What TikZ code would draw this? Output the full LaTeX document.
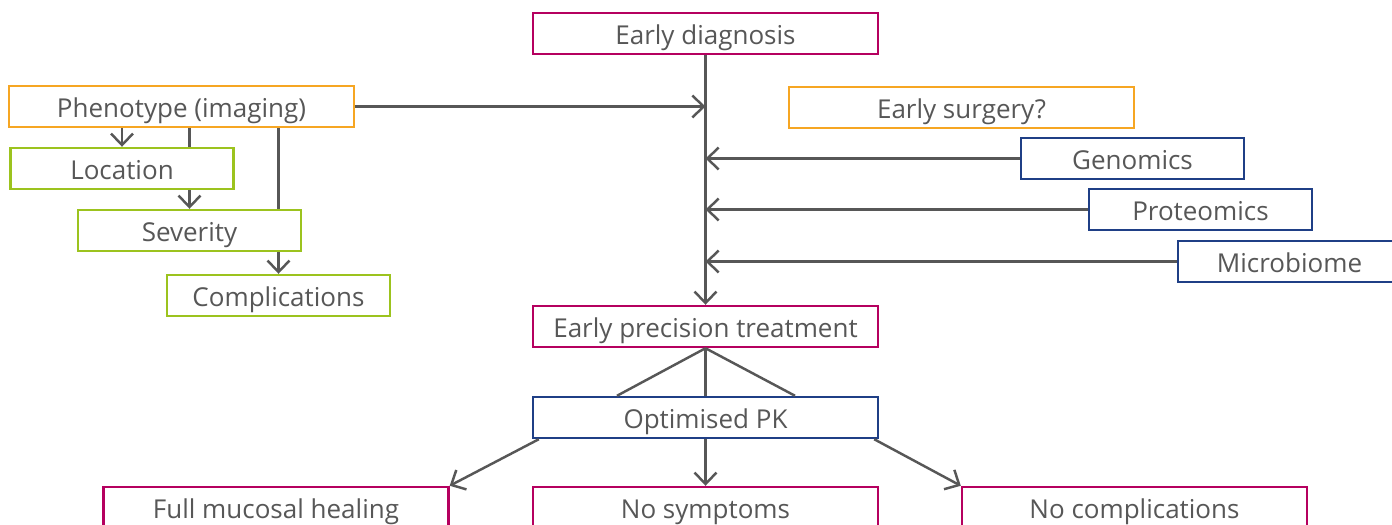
\documentclass[tikz,border=0pt]{standalone}
\usepackage{fontspec}
\setmainfont{Open Sans}
\usepackage{xcolor}
\usepackage{tikz}
\usetikzlibrary{arrows.meta, calc}

\definecolor{berry}{HTML}{B5005F}
\definecolor{amber}{HTML}{F6A623}
\definecolor{lime}{HTML}{9CC31E}
\definecolor{navy}{HTML}{1F3F86}
\definecolor{ink}{HTML}{575757}

\begin{document}
\begin{tikzpicture}[x=0.02cm, y=-0.02cm,
    box/.style={draw, line width=1.4pt, fill=white, text=ink, font=\fontsize{14.8}{17}\selectfont,
        minimum height=0.82cm, inner sep=0pt, text height=12pt, text depth=0pt},
    wide/.style={box, minimum width=6.9cm},
    slim/.style={box, minimum width=4.46cm},
    link/.style={ink, line width=1.4pt},
    arr/.style={link, -{Straight Barb[length=6.5pt, width=12.5pt]}}]
    \useasboundingbox (0,0) rectangle (1392,524);

    % top and middle column
    \node[wide, draw=berry] (diag) at (705.5,33.5) {Early diagnosis};
    \node[wide, draw=berry] (prec) at (705.5,326.5) {Early precision treatment};
    \node[wide, draw=navy] (pk) at (705.5,417.5) {Optimised PK};

    % phenotype branch
    \node[wide, draw=amber] (pheno) at (181.5,106.5) {Phenotype (imaging)};
    \node[slim, draw=lime] (loc) at (122,168.5) {Location};
    \node[slim, draw=lime] (sev) at (189.5,230.5) {Severity};
    \node[slim, draw=lime] (compl) at (278.5,295.5) {Complications};

    % right side
    \node[wide, draw=amber] (surg) at (961.5,107.5) {Early surgery?};
    \node[slim, draw=navy] (gen) at (1132.5,158.5) {Genomics};
    \node[slim, draw=navy] (prot) at (1200.5,209.5) {Proteomics};
    \node[slim, draw=navy] (micro) at (1289.5,261.5) {Microbiome};

    % outcomes
    \node[wide, draw=berry] (heal) at (276,507.5) {Full mucosal healing};
    \node[wide, draw=berry] (nosym) at (705.5,507.5) {No symptoms};
    \node[wide, draw=berry] (nocomp) at (1134.5,507.5) {No complications};

    \draw[arr] (diag.south) -- (prec.north);
    \draw[arr] (pheno.east) -- (pheno.east -| diag.south);
    \foreach \n in {gen, prot, micro} \draw[arr] (\n.west) -- (\n.west -| diag.south);

    \draw[arr] (loc.north |- pheno.south) -- (loc.north);
    \draw[link] (sev.north |- pheno.south) -- (sev.north |- loc.north);
    \draw[arr] (sev.north |- loc.south) -- (sev.north);
    \draw[link] (compl.north |- pheno.south) -- (compl.north |- sev.north);
    \draw[arr] (compl.north |- sev.south) -- (compl.north);

    \draw[link] (prec.south) -- (pk.north);
    \draw[link] (prec.south) -- ($(pk.north)+(-88.5,0)$);
    \draw[link] (prec.south) -- ($(pk.north)+(89.5,0)$);

    \draw[arr] ($(pk.south west)+(7,0)$) -- (heal.north east);
    \draw[arr] (pk.south) -- (nosym.north);
    \draw[arr] ($(pk.south east)+(-5,0)$) -- (nocomp.north west);
\end{tikzpicture}
\end{document}
